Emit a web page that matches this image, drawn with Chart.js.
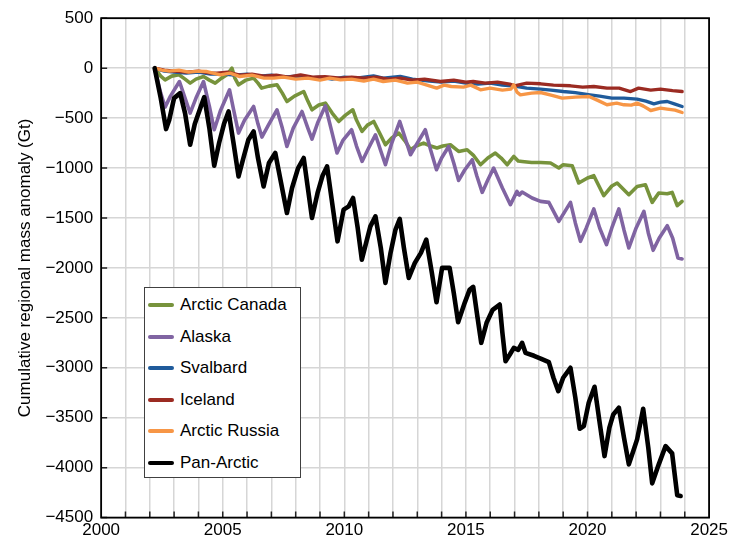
<!DOCTYPE html>
<html lang="en">
<head>
<meta charset="UTF-8">
<title>Cumulative regional mass anomaly</title>
<script src="https://cdn.jsdelivr.net/npm/chart.js"></script>
<style>
  body {
    margin: 0;
    padding: 0;
    background: #fff;
    font-family: "Liberation Sans", Arial, sans-serif;
  }
  .wrap {
    position: relative;
    width: 731px;
    height: 544px;
  }
  .legend {
    position: absolute;
    left: 144px;
    top: 287px;
    width: 155px;
    height: 189px;
    background: #fff;
    border: 1px solid #404040;
    font-size: 17px;
    color: #000;
  }
  .legend-row {
    position: absolute;
    left: 0;
    height: 20px;
    line-height: 20px;
    white-space: nowrap;
  }
  .legend-swatch {
    position: absolute;
    left: 3px;
    top: 8px;
    width: 26px;
    height: 4px;
    border-radius: 2px;
  }
  .legend-text {
    position: absolute;
    left: 35px;
    top: 0;
  }
</style>
</head>
<body>
<div class="wrap">
  <canvas id="massChart" width="731" height="544"></canvas>
  <div class="legend" id="legend"></div>
</div>
<script>
// series names and colours (legend order)
const seriesNames = ['Arctic Canada', 'Alaska', 'Svalbard', 'Iceland', 'Arctic Russia', 'Pan-Arctic'];
const seriesColors = ['#77933C', '#8064A2', '#1F5B9B', '#9B2B22', '#F79646', '#000000'];

const xTickLabels = [2000, 2005, 2010, 2015, 2020, 2025];
const yTickLabels = [500, 0, -500, -1000, -1500, -2000, -2500, -3000, -3500, -4000, -4500];

// Arctic Canada
const canadaYears = [2002.2, 2002.45, 2002.63, 2002.9, 2003.2, 2003.45, 2003.66, 2003.9, 2004.21, 2004.45, 2004.69, 2004.95,
  2005.2, 2005.38, 2005.5, 2005.65, 2005.95, 2006.27, 2006.45, 2006.6, 2006.9, 2007.23, 2007.45, 2007.64, 2007.95,
  2008.33, 2008.5, 2008.67, 2008.95, 2009.22, 2009.5, 2009.77, 2010.05, 2010.35, 2010.5, 2010.73, 2010.95, 2011.21,
  2011.45, 2011.69, 2011.95, 2012.24, 2012.5, 2012.72, 2012.95, 2013.26, 2013.55, 2013.81, 2014.05, 2014.36, 2014.7,
  2015.05, 2015.3, 2015.6, 2015.9, 2016.21, 2016.45, 2016.7, 2016.97, 2017.15, 2017.31, 2017.7, 2018.07, 2018.48,
  2018.82, 2019.0, 2019.37, 2019.64, 2020.0, 2020.26, 2020.67, 2021.0, 2021.22, 2021.7, 2022.04, 2022.38, 2022.66,
  2022.93, 2023.28, 2023.48, 2023.69, 2023.89];
const canadaGt = [0, -80, -117, -80, -67, -110, -150, -110, -84, -120, -150, -100,
  -60, 0, -100, -167, -120, -100, -150, -200, -180, -167, -250, -334, -280,
  -234, -330, -417, -370, -350, -450, -534, -470, -417, -520, -634, -570, -534,
  -650, -767, -700, -650, -730, -817, -780, -750, -780, -800, -780, -767, -834,
  -817, -870, -967, -900, -850, -900, -967, -884, -930, -934, -944, -944, -950,
  -1000, -967, -977, -1150, -1100, -1077, -1277, -1180, -1150, -1267, -1184, -1167, -1344,
  -1250, -1257, -1244, -1377, -1334];

// Alaska
const alaskaYears = [2002.2, 2002.45, 2002.63, 2002.85, 2003.22, 2003.45, 2003.66, 2003.9, 2004.21, 2004.45, 2004.65,
  2004.9, 2005.28, 2005.45, 2005.65, 2005.9, 2006.27, 2006.45, 2006.61, 2006.9, 2007.23, 2007.45, 2007.64, 2007.9,
  2008.26, 2008.5, 2008.67, 2008.9, 2009.22, 2009.5, 2009.7, 2009.95, 2010.3, 2010.5, 2010.73, 2011.0, 2011.28,
  2011.5, 2011.69, 2011.95, 2012.28, 2012.5, 2012.72, 2013.0, 2013.33, 2013.55, 2013.79, 2014.0, 2014.29, 2014.5,
  2014.7, 2014.95, 2015.26, 2015.45, 2015.67, 2015.9, 2016.14, 2016.5, 2016.83, 2017.1, 2017.2, 2017.31, 2017.72,
  2018.07, 2018.41, 2018.82, 2019.3, 2019.5, 2019.71, 2019.95, 2020.26, 2020.5, 2020.78, 2021.0, 2021.29, 2021.5,
  2021.7, 2022.0, 2022.32, 2022.5, 2022.7, 2022.95, 2023.28, 2023.5, 2023.72, 2023.89];
const alaskaGt = [0, -250, -390, -280, -134, -300, -450, -300, -134, -380, -617,
  -430, -217, -420, -650, -520, -384, -560, -690, -560, -417, -600, -784, -600,
  -434, -600, -710, -550, -377, -650, -850, -720, -617, -780, -934, -800, -667,
  -830, -967, -750, -534, -700, -867, -750, -617, -820, -1017, -900, -784, -950,
  -1124, -1020, -917, -1080, -1244, -1120, -1000, -1200, -1367, -1234, -1270, -1240, -1300,
  -1334, -1344, -1534, -1344, -1550, -1734, -1600, -1410, -1600, -1767, -1600, -1410, -1620,
  -1800, -1600, -1434, -1650, -1824, -1700, -1577, -1700, -1900, -1910];

// Svalbard
const svalbardYears = [2002.2, 2002.6, 2003.0, 2003.5, 2004.0, 2004.5, 2005.0, 2005.5, 2006.0, 2006.5, 2007.0, 2007.5,
  2008.0, 2008.5, 2009.0, 2009.5, 2010.0, 2010.5, 2011.2, 2011.6, 2012.3, 2012.8, 2013.5, 2014.0, 2014.5, 2015.0,
  2015.5, 2016.0, 2016.5, 2017.0, 2017.5, 2018.07, 2018.5, 2019.0, 2019.5, 2020.1, 2020.5, 2021.0, 2021.5, 2022.04,
  2022.4, 2022.73, 2023.0, 2023.28, 2023.6, 2023.89];
const svalbardGt = [0, -30, -40, -50, -40, -60, -60, -70, -60, -80, -70, -90,
  -80, -100, -90, -110, -90, -100, -77, -100, -84, -110, -130, -140, -130, -150,
  -160, -150, -170, -180, -200, -210, -220, -234, -245, -267, -280, -300, -300, -310,
  -330, -357, -340, -334, -360, -384];

// Iceland
const icelandYears = [2002.2, 2002.6, 2003.0, 2003.5, 2004.0, 2004.5, 2004.76, 2005.2, 2005.7, 2006.2, 2006.7, 2007.2,
  2007.7, 2008.2, 2008.7, 2009.2, 2009.84, 2010.3, 2010.8, 2011.3, 2011.8, 2012.3, 2012.8, 2013.3, 2013.95, 2014.5,
  2015.0, 2015.3, 2015.8, 2016.3, 2016.8, 2017.0, 2017.5, 2018.07, 2018.6, 2019.3, 2019.8, 2020.26, 2020.8, 2021.3,
  2021.77, 2022.1, 2022.6, 2023.0, 2023.5, 2023.89];
const icelandGt = [0, -20, -30, -40, -30, -50, -50, -40, -70, -60, -80, -70,
  -90, -67, -90, -85, -100, -90, -100, -90, -110, -100, -120, -110, -134, -120,
  -140, -134, -150, -140, -160, -177, -150, -157, -170, -177, -190, -184, -200, -200,
  -234, -200, -220, -210, -225, -234];

// Arctic Russia
const russiaYears = [2002.2, 2002.5, 2002.8, 2003.2, 2003.6, 2004.0, 2004.35, 2004.9, 2005.3, 2005.7, 2006.2, 2006.7,
  2007.1, 2007.5, 2008.0, 2008.5, 2009.0, 2009.4, 2009.84, 2010.3, 2010.8, 2011.2, 2011.6, 2012.1, 2012.6, 2013.0,
  2013.4, 2013.8, 2014.1, 2014.4, 2014.9, 2015.2, 2015.6, 2016.0, 2016.5, 2016.85, 2016.97, 2017.1, 2017.24, 2017.7,
  2018.07, 2018.5, 2018.96, 2019.5, 2020.06, 2020.4, 2020.8, 2021.2, 2021.5, 2021.8, 2022.04, 2022.3, 2022.6, 2023.0,
  2023.28, 2023.6, 2023.89];
const russiaGt = [0, -20, -30, -20, -40, -30, -34, -67, -50, -84, -70, -100,
  -100, -90, -110, -100, -120, -100, -117, -110, -130, -110, -134, -120, -150, -140,
  -170, -200, -170, -184, -190, -170, -217, -200, -220, -210, -167, -240, -267, -250,
  -244, -270, -300, -290, -284, -320, -367, -350, -367, -370, -350, -380, -424, -400,
  -410, -420, -444];

// Pan-Arctic
const panYears = [2002.2, 2002.45, 2002.67, 2002.8, 2003.0, 2003.25, 2003.45, 2003.66, 2003.85, 2004.05, 2004.24,
  2004.45, 2004.65, 2004.85, 2005.05, 2005.24, 2005.45, 2005.65, 2005.85, 2006.05, 2006.27, 2006.45, 2006.68, 2006.9,
  2007.16, 2007.4, 2007.64, 2007.85, 2008.1, 2008.33, 2008.5, 2008.67, 2008.9, 2009.1, 2009.29, 2009.5, 2009.72,
  2009.97, 2010.18, 2010.36, 2010.55, 2010.72, 2011.07, 2011.28, 2011.5, 2011.69, 2011.9, 2012.1, 2012.28, 2012.45,
  2012.65, 2012.9, 2013.15, 2013.37, 2013.6, 2013.79, 2014.02, 2014.33, 2014.5, 2014.68, 2014.95, 2015.15, 2015.3,
  2015.45, 2015.63, 2015.85, 2016.1, 2016.39, 2016.5, 2016.63, 2016.8, 2016.97, 2017.15, 2017.31, 2017.45, 2017.8,
  2018.1, 2018.41, 2018.6, 2018.8, 2019.0, 2019.3, 2019.5, 2019.68, 2019.85, 2020.05, 2020.29, 2020.5, 2020.7,
  2020.9, 2021.06, 2021.29, 2021.5, 2021.7, 2021.9, 2022.04, 2022.29, 2022.5, 2022.66, 2022.93, 2023.21, 2023.48,
  2023.69, 2023.83];
const panGt = [0, -300, -610, -520, -300, -250, -450, -767, -560, -420, -290,
  -600, -977, -750, -560, -434, -760, -1084, -900, -720, -634, -900, -1184, -950,
  -850, -1150, -1450, -1200, -1000, -900, -1200, -1500, -1250, -1080, -984, -1350, -1734,
  -1417, -1384, -1300, -1600, -1917, -1584, -1484, -1800, -2150, -1850, -1620, -1510, -1800,
  -2100, -1950, -1850, -1717, -2050, -2344, -2000, -2000, -2250, -2544, -2350, -2220, -2190,
  -2450, -2750, -2550, -2420, -2367, -2650, -2934, -2870, -2800, -2820, -2750, -2850, -2880,
  -2910, -2944, -3100, -3234, -3100, -3000, -3300, -3610, -3584, -3350, -3190, -3550, -3884,
  -3600, -3467, -3400, -3700, -3967, -3820, -3717, -3410, -3800, -4157, -3967, -3784, -3857,
  -4277, -4284];

const seriesYears = [canadaYears, alaskaYears, svalbardYears, icelandYears, russiaYears, panYears];
const seriesGt = [canadaGt, alaskaGt, svalbardGt, icelandGt, russiaGt, panGt];
const seriesWidths = [3.6, 3.6, 3.4, 3.4, 3.4, 4.6];
// draw order: Pan-Arctic on top, then Arctic Russia, Iceland, Svalbard ...
const seriesOrder = [5, 4, 3, 2, 1, 0];

function toPoints(years, values) {
  return years.map((yr, i) => ({ x: yr, y: values[i] }));
}

const datasets = seriesNames.map((name, i) => {
  return {
    label: name,
    data: toPoints(seriesYears[i], seriesGt[i]),
    borderColor: seriesColors[i],
    backgroundColor: seriesColors[i],
    borderWidth: seriesWidths[i],
    borderJoinStyle: 'round',
    borderCapStyle: 'round',
    pointRadius: 0,
    tension: 0,
    fill: false,
    order: seriesOrder[i]
  };
});

// frame round the plot and the small inward tick marks
const framePlugin = {
  id: 'frame',
  beforeDatasetsDraw(chart) {
    const { ctx, chartArea, scales } = chart;
    ctx.save();
    ctx.strokeStyle = '#222';
    ctx.lineWidth = 1.5;
    ctx.beginPath();
    for (let yr = 2001; yr < 2025; yr++) {
      const px = scales.x.getPixelForValue(yr);
      ctx.moveTo(px, chartArea.bottom);
      ctx.lineTo(px, chartArea.bottom - 6);
    }
    yTickLabels.forEach(v => {
      const py = scales.y.getPixelForValue(v);
      ctx.moveTo(chartArea.left, py);
      ctx.lineTo(chartArea.left + 6, py);
    });
    ctx.stroke();
    ctx.restore();
  },
  afterDraw(chart) {
    const { ctx, chartArea } = chart;
    ctx.save();
    ctx.strokeStyle = '#000';
    ctx.lineWidth = 1.8;
    ctx.strokeRect(chartArea.left, chartArea.top, chartArea.right - chartArea.left, chartArea.bottom - chartArea.top);
    ctx.restore();
  }
};

const tickFont = { family: '"Liberation Sans", Arial, sans-serif', size: 17 };

const ctx = document.getElementById('massChart').getContext('2d');
const chart = new Chart(ctx, {
  type: 'line',
  data: { datasets: datasets },
  options: {
    responsive: false,
    devicePixelRatio: 1,
    animation: false,
    layout: { padding: { left: 5, right: 2, top: 6, bottom: 0 } },
    plugins: {
      legend: { display: false },
      tooltip: { enabled: false }
    },
    scales: {
      x: {
        type: 'linear',
        min: 2000,
        max: 2025,
        grid: { color: '#d6d6d6', lineWidth: 1.5, drawTicks: false },
        border: { display: false },
        ticks: {
          stepSize: 1,
          autoSkip: false,
          maxRotation: 0,
          padding: 3,
          color: '#000',
          font: tickFont,
          callback: v => xTickLabels.includes(Math.round(v)) ? String(Math.round(v)) : ''
        }
      },
      y: {
        min: -4500,
        max: 500,
        grid: { color: '#d6d6d6', lineWidth: 1.5, drawTicks: false },
        border: { display: false },
        ticks: {
          stepSize: 500,
          padding: 8,
          color: '#000',
          font: tickFont,
          callback: v => v < 0 ? '\u2212' + Math.abs(v) : String(v)
        },
        title: {
          display: true,
          text: 'Cumulative regional mass anomaly (Gt)',
          color: '#000',
          font: tickFont,
          padding: { top: 10, bottom: 2 }
        }
      }
    }
  },
  plugins: [framePlugin]
});

// legend box, drawn as HTML on top of the plot
const legendBox = document.getElementById('legend');
seriesNames.forEach((name, i) => {
  const row = document.createElement('div');
  row.className = 'legend-row';
  row.style.top = (7 + i * 31.5) + 'px';
  row.innerHTML = `<span class="legend-swatch" style="background:${seriesColors[i]}"></span><span class="legend-text">${name}</span>`;
  legendBox.appendChild(row);
});
</script>
</body>
</html>
